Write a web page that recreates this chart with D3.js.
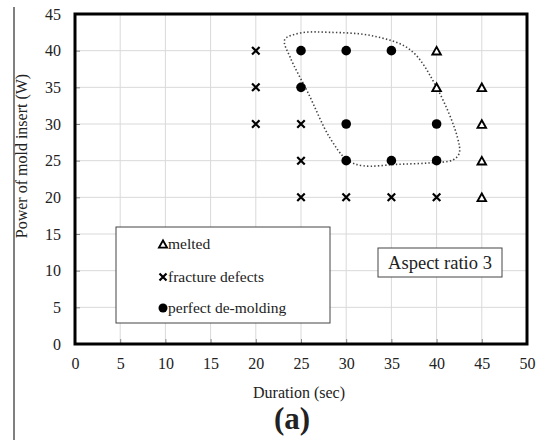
<!DOCTYPE html>
<html>
<head>
<meta charset="utf-8">
<script src="https://cdn.jsdelivr.net/npm/d3@7"></script>
<style>
  html, body { margin: 0; padding: 0; background: #fff; }
  svg { display: block; }
  svg text { font-family: 'Liberation Serif', 'Times New Roman', Tinos, 'DejaVu Serif', serif !important; fill: #222; }
</style>
</head>
<body>
<svg id="chart" width="548" height="440"></svg>
<script>
// Process window results: duration (s) vs. mold-insert power (W)
const xTicks = [0, 5, 10, 15, 20, 25, 30, 35, 40, 45, 50];
const yTicks = [0, 5, 10, 15, 20, 25, 30, 35, 40, 45];

const melted = [[40, 40], [40, 35], [45, 35], [45, 30], [45, 25], [45, 20]];
const fracture = [[20, 40], [20, 35], [20, 30], [25, 30], [25, 25], [25, 20], [30, 20], [35, 20], [40, 20]];
const perfect = [[25, 40], [30, 40], [35, 40], [25, 35], [30, 30], [40, 30], [30, 25], [35, 25], [40, 25]];

// Outline of the successful de-molding window
const windowOutline = [
  [23.2, 41.5], [24.9, 42.4], [28.2, 42.5], [33.0, 42.0], [37.1, 40.1],
  [40.0, 35.0], [42.3, 28.2], [42.5, 26.0], [41.8, 25.1], [39.3, 24.7],
  [35.6, 24.5], [31.9, 24.3], [30.1, 25.1], [28.2, 28.1], [25.8, 34.2], [23.8, 39.1]
];

const legendItems = ["melted", "fracture defects", "perfect de-molding"];

const serif = "'Liberation Serif', 'Times New Roman', Tinos, 'DejaVu Serif', serif";

const svg = d3.select("#chart");
const plot = { left: 75, right: 527, top: 14, bottom: 344 };

const x = d3.scaleLinear().domain([0, 50]).range([plot.left, plot.right]);
const y = d3.scaleLinear().domain([0, 45]).range([plot.bottom, plot.top]);

// Page margin rule on the left
svg.append("line")
  .attr("x1", 14).attr("x2", 14).attr("y1", 7).attr("y2", 440)
  .attr("stroke", "#555").attr("stroke-width", 1.5);

// Grid
const grid = svg.append("g");
grid.selectAll(".vg").data(xTicks.slice(1, -1)).join("line")
  .attr("x1", d => x(d)).attr("x2", d => x(d))
  .attr("y1", plot.top).attr("y2", plot.bottom)
  .attr("stroke", "#d9d9d9").attr("stroke-width", 1);
grid.selectAll(".hg").data(yTicks.slice(1, -1)).join("line")
  .attr("x1", plot.left).attr("x2", plot.right)
  .attr("y1", d => y(d)).attr("y2", d => y(d))
  .attr("stroke", "#d9d9d9").attr("stroke-width", 1);

// Axes (ticks point inward)
const xAxis = svg.append("g")
  .attr("transform", `translate(0,${plot.bottom})`)
  .call(d3.axisBottom(x).tickValues(xTicks).tickSize(-5).tickPadding(14).tickFormat(d3.format("d")));
const yAxis = svg.append("g")
  .attr("transform", `translate(${plot.left},0)`)
  .call(d3.axisLeft(y).tickValues(yTicks).tickSize(-5).tickPadding(14).tickFormat(d3.format("d")));
[xAxis, yAxis].forEach(a => {
  a.attr("font-family", null);
  a.select(".domain").remove();
  a.selectAll(".tick line").attr("stroke", "#888");
  a.selectAll(".tick text")
    .style("font-family", serif)
    .attr("font-size", 16).attr("fill", "#222");
});

// Plot frame
svg.append("rect")
  .attr("x", plot.left).attr("y", plot.top)
  .attr("width", plot.right - plot.left).attr("height", plot.bottom - plot.top)
  .attr("fill", "none").attr("stroke", "#000").attr("stroke-width", 3);

// Window outline
svg.append("path")
  .datum(windowOutline)
  .attr("d", d3.line().x(d => x(d[0])).y(d => y(d[1])).curve(d3.curveCatmullRomClosed.alpha(0.5)))
  .attr("fill", "none").attr("stroke", "#444").attr("stroke-width", 1.6)
  .attr("stroke-dasharray", "1.4,2.2");

// Marker helpers
function triangle(g, cx, cy, s) {
  const h = s * 0.9;
  g.append("path")
    .attr("d", `M${cx},${cy - h / 2}L${cx + s / 2},${cy + h / 2}L${cx - s / 2},${cy + h / 2}Z`)
    .attr("fill", "#fff").attr("stroke", "#000").attr("stroke-width", 1.9)
    .attr("stroke-linejoin", "miter");
}
function cross(g, cx, cy, s) {
  const r = s / 2;
  g.append("path")
    .attr("d", `M${cx - r},${cy - r}L${cx + r},${cy + r}M${cx - r},${cy + r}L${cx + r},${cy - r}`)
    .attr("stroke", "#000").attr("stroke-width", 2.2);
}
function dot(g, cx, cy, r) {
  g.append("circle").attr("cx", cx).attr("cy", cy).attr("r", r).attr("fill", "#000");
}

const marks = svg.append("g");
melted.forEach(d => triangle(marks, x(d[0]), y(d[1]), 8.5));
fracture.forEach(d => cross(marks, x(d[0]), y(d[1]), 7.5));
perfect.forEach(d => dot(marks, x(d[0]), y(d[1]), 4.8));

// Legend
const lg = svg.append("g");
lg.append("rect")
  .attr("x", 116).attr("y", 227).attr("width", 214).attr("height", 96)
  .attr("fill", "#fff").attr("stroke", "#444").attr("stroke-width", 1);
const legendY = [244, 277, 308];
const drawers = [
  (g, cy) => triangle(g, 163, cy, 8),
  (g, cy) => cross(g, 163, cy, 7),
  (g, cy) => dot(g, 163, cy, 4.5)
];
legendItems.forEach((label, i) => {
  drawers[i](lg, legendY[i]);
  lg.append("text")
    .attr("x", 168).attr("y", legendY[i] + 5)
    .style("font-family", serif)
    .attr("font-size", 15.5).text(label);
});

// Annotation box
svg.append("rect")
  .attr("x", 378).attr("y", 248).attr("width", 124).attr("height", 29)
  .attr("fill", "#fff").attr("stroke", "#444").attr("stroke-width", 1);
svg.append("text")
  .attr("x", 440).attr("y", 269).attr("text-anchor", "middle")
  .style("font-family", serif)
  .attr("font-size", 18.5).text("Aspect ratio 3");

// Axis titles
svg.append("text")
  .attr("x", 299).attr("y", 398).attr("text-anchor", "middle")
  .style("font-family", serif)
  .attr("font-size", 16).text("Duration (sec)");
svg.append("text")
  .attr("transform", "translate(27,156) rotate(-90)")
  .attr("text-anchor", "middle")
  .style("font-family", serif)
  .attr("font-size", 16).text("Power of mold insert (W)");

// Panel label
svg.append("text")
  .attr("x", 292).attr("y", 429).attr("text-anchor", "middle")
  .style("font-family", serif)
  .attr("font-size", 31).attr("font-weight", "bold").attr("fill", "#000")
  .text("(a)");
</script>
</body>
</html>
